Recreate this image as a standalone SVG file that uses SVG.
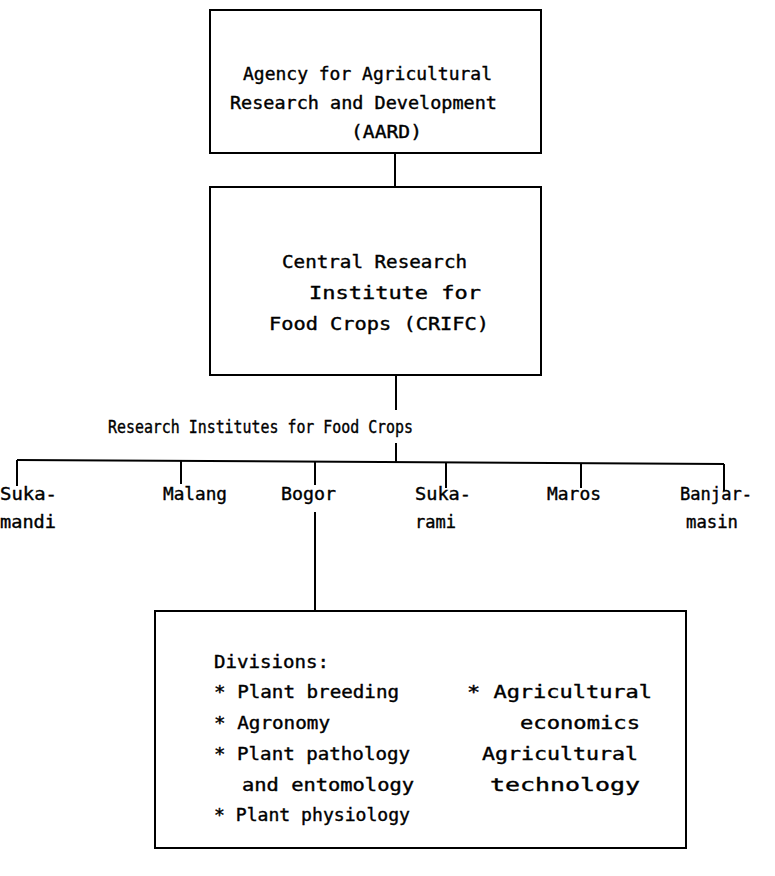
<svg xmlns="http://www.w3.org/2000/svg" width="775" height="876" viewBox="0 0 775 876">
<style>
.box{fill:none;stroke:#000;stroke-width:2}
.ln{stroke:#000;stroke-width:2;fill:none}
text{font-family:"DejaVu Sans Mono","Liberation Mono",monospace;font-size:18px;fill:#000;stroke:#000;stroke-width:0.4}
</style>
<rect width="775" height="876" fill="#fff"/>
<g id="aard">
<rect class="box" x="210" y="10" width="331" height="143"/>
<text x="243" y="80" textLength="249" lengthAdjust="spacingAndGlyphs">Agency for Agricultural</text>
<text x="230" y="109" textLength="267" lengthAdjust="spacingAndGlyphs">Research and Development</text>
<text x="351" y="138" textLength="71" lengthAdjust="spacingAndGlyphs">(AARD)</text>
</g>
<g id="crifc">
<rect class="box" x="210" y="187" width="331" height="188"/>
<text x="282" y="268" textLength="185" lengthAdjust="spacingAndGlyphs">Central Research</text>
<text x="309" y="299" textLength="172" lengthAdjust="spacingAndGlyphs">Institute for</text>
<text x="269" y="330" textLength="220" lengthAdjust="spacingAndGlyphs">Food Crops (CRIFC)</text>
</g>
<g id="rifc">
<text x="108" y="433" textLength="305" lengthAdjust="spacingAndGlyphs">Research Institutes for Food Crops</text>
</g>
<g id="sukamandi">
<text x="0" y="500" textLength="57" lengthAdjust="spacingAndGlyphs">Suka-</text>
<text x="0" y="528" textLength="56" lengthAdjust="spacingAndGlyphs">mandi</text>
</g>
<g id="malang"><text x="163" y="500" textLength="64" lengthAdjust="spacingAndGlyphs">Malang</text></g>
<g id="bogor"><text x="281" y="500" textLength="55" lengthAdjust="spacingAndGlyphs">Bogor</text></g>
<g id="sukarami">
<text x="415" y="500" textLength="56" lengthAdjust="spacingAndGlyphs">Suka-</text>
<text x="415" y="528" textLength="41" lengthAdjust="spacingAndGlyphs">rami</text>
</g>
<g id="maros"><text x="547" y="500" textLength="54" lengthAdjust="spacingAndGlyphs">Maros</text></g>
<g id="banjarmasin">
<text x="680" y="500" textLength="72" lengthAdjust="spacingAndGlyphs">Banjar-</text>
<text x="686" y="528" textLength="52" lengthAdjust="spacingAndGlyphs">masin</text>
</g>
<g id="divisions">
<rect class="box" x="155" y="611" width="531" height="237"/>
<text x="214" y="668" textLength="115" lengthAdjust="spacingAndGlyphs">Divisions:</text>
<text x="214" y="698" textLength="185" lengthAdjust="spacingAndGlyphs">* Plant breeding</text>
<text x="214" y="729" textLength="116" lengthAdjust="spacingAndGlyphs">* Agronomy</text>
<text x="214" y="760" textLength="196" lengthAdjust="spacingAndGlyphs">* Plant pathology</text>
<text x="242" y="791" textLength="172" lengthAdjust="spacingAndGlyphs">and entomology</text>
<text x="214" y="821" textLength="196" lengthAdjust="spacingAndGlyphs">* Plant physiology</text>
<text x="467" y="698" textLength="185" lengthAdjust="spacingAndGlyphs">* Agricultural</text>
<text x="520" y="729" textLength="120" lengthAdjust="spacingAndGlyphs">economics</text>
<text x="482" y="760" textLength="156" lengthAdjust="spacingAndGlyphs">Agricultural</text>
<text x="490" y="791" textLength="150" lengthAdjust="spacingAndGlyphs">technology</text>
</g>
<g id="connectors">
<path class="ln" d="M395 153V187"/>
<path class="ln" d="M396 375V410"/>
<path class="ln" d="M396 443V462"/>
<path class="ln" d="M17 460L724 464"/>
<path class="ln" d="M17 460V486M181 461V484M315 462V485M446 463V488M581 463V488M724 464V491"/>
<path class="ln" d="M315 512V611"/>
</g>
</svg>
